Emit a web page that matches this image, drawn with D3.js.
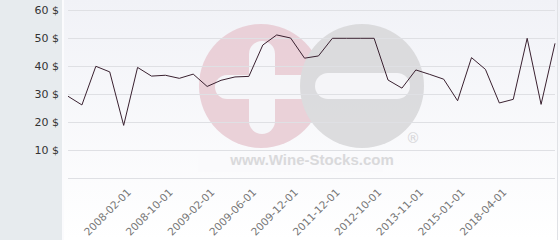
<!DOCTYPE html>
<html>
<head>
<meta charset="utf-8">
<script src="https://cdn.jsdelivr.net/npm/d3@7"></script>
<style>
  body { margin: 0; background: #fff; }
  svg { display: block; font-family: "DejaVu Sans", Verdana, sans-serif; }
</style>
</head>
<body>
<div id="chart"></div>
<script>

// prices, one per category (36 points)
var prices = [29.3, 26.2, 40.0, 38.0, 18.9, 39.6, 36.5, 36.8, 35.7, 37.2,
              32.8, 35.0, 36.2, 36.4, 47.6, 51.2, 50.1, 42.9, 43.7, 50.0,
              50.0, 50.0, 50.0, 35.1, 32.2, 38.7, 37.1, 35.4, 27.7, 43.1,
              38.9, 26.9, 28.2, 50.0, 26.4, 48.2];

var tickIndex  = [4, 7, 10, 13, 16, 19, 22, 25, 28, 31];
var tickLabels = ["2008-02-01", "2008-10-01", "2009-02-01", "2009-06-01", "2009-12-01",
                  "2011-12-01", "2012-10-01", "2013-11-01", "2015-01-01", "2018-04-01"];
var yTicks = [0, 10, 20, 30, 40, 50, 60];

var width = 560, height = 240;
var plotLeft = 68, plotRight = 555, plotTop = 10.3, plotBottom = 178.3;

var svg = d3.select("#chart").append("svg")
            .attr("width", width)
            .attr("height", height);

var defs = svg.append("defs");
var grad = defs.append("linearGradient")
               .attr("id", "bg")
               .attr("x1", 0).attr("y1", 0)
               .attr("x2", 0).attr("y2", 1);
grad.append("stop").attr("offset", "0%").attr("stop-color", "#f1f2f7");
grad.append("stop").attr("offset", "100%").attr("stop-color", "#ffffff");

// backgrounds
svg.append("rect")
   .attr("width", width)
   .attr("height", height)
   .style("fill", "url(#bg)");

svg.append("rect")
   .attr("width", 62)
   .attr("height", height)
   .style("fill", "#e7ebee");

svg.append("rect")
   .attr("x", 62)
   .attr("width", 2)
   .attr("height", height)
   .style("fill", "#fbfbfd");

svg.append("line")
   .attr("x1", 557.5).attr("x2", 557.5)
   .attr("y1", 0).attr("y2", height)
   .attr("stroke", "#e0e2e6");

var x = d3.scalePoint()
          .domain(d3.range(prices.length))
          .range([plotLeft, plotRight]);

var y = d3.scaleLinear()
          .domain([0, 60])
          .range([plotBottom, plotTop]);

// watermark
var wm = svg.append("g").attr("opacity", 0.9);

wm.append("rect")
  .attr("x", 198).attr("y", 150).attr("width", 185).attr("height", 22)
  .style("fill", "#fafafc");

wm.append("circle")
  .attr("cx", 261).attr("cy", 86).attr("r", 62)
  .style("fill", "#e9cdd5");

wm.append("rect")
  .attr("x", 249).attr("y", 41).attr("width", 26).attr("height", 93)
  .attr("rx", 13)
  .style("fill", "#f6f6f9");

wm.append("rect")
  .attr("x", 215).attr("y", 75).attr("width", 100).attr("height", 24)
  .attr("rx", 12)
  .style("fill", "#f6f6f9");

wm.append("circle")
  .attr("cx", 362).attr("cy", 86).attr("r", 62)
  .style("fill", "#d9d9db");

wm.append("rect")
  .attr("x", 315).attr("y", 73).attr("width", 95).attr("height", 26)
  .attr("rx", 13)
  .style("fill", "#f5f5f8");

wm.append("text")
  .attr("x", 413).attr("y", 143)
  .attr("text-anchor", "middle")
  .attr("font-size", "14px")
  .attr("fill", "#d2d2d4")
  .text("®");

wm.append("text")
  .attr("x", 312).attr("y", 165)
  .attr("text-anchor", "middle")
  .attr("font-size", "15px")
  .attr("font-weight", "bold")
  .attr("font-family", "Arial, 'Liberation Sans', sans-serif")
  .attr("fill", "#d6d6d8")
  .text("www.Wine-Stocks.com");

// grid + y labels
svg.append("g")
   .selectAll("line")
   .data(yTicks)
   .enter().append("line")
   .attr("x1", plotLeft).attr("x2", plotRight)
   .attr("y1", function(d) { return Math.round(y(d)) + 0.5; })
   .attr("y2", function(d) { return Math.round(y(d)) + 0.5; })
   .attr("stroke", "#dfe0e4");

svg.append("g")
   .selectAll("text")
   .data(yTicks.filter(function(d) { return d > 0; }))
   .enter().append("text")
   .attr("x", 59)
   .attr("y", function(d) { return y(d); })
   .attr("dy", "0.35em")
   .attr("text-anchor", "end")
   .attr("font-size", "11px")
   .attr("fill", "#333")
   .text(function(d) { return d + " $"; });

// x labels
svg.append("g")
   .selectAll("text")
   .data(tickIndex)
   .enter().append("text")
   .attr("transform", function(d) { return "translate(" + (x(d) + 8) + ",193) rotate(-45)"; })
   .attr("text-anchor", "end")
   .attr("font-size", "10.5px")
   .attr("fill", "#777")
   .text(function(d, i) { return tickLabels[i]; });

// price line
var line = d3.line()
             .x(function(d, i) { return x(i); })
             .y(function(d) { return y(d); });

svg.append("path")
   .datum(prices)
   .attr("d", line)
   .attr("fill", "none")
   .attr("stroke", "#3a2130")
   .attr("stroke-width", 1);

</script>
</body>
</html>
